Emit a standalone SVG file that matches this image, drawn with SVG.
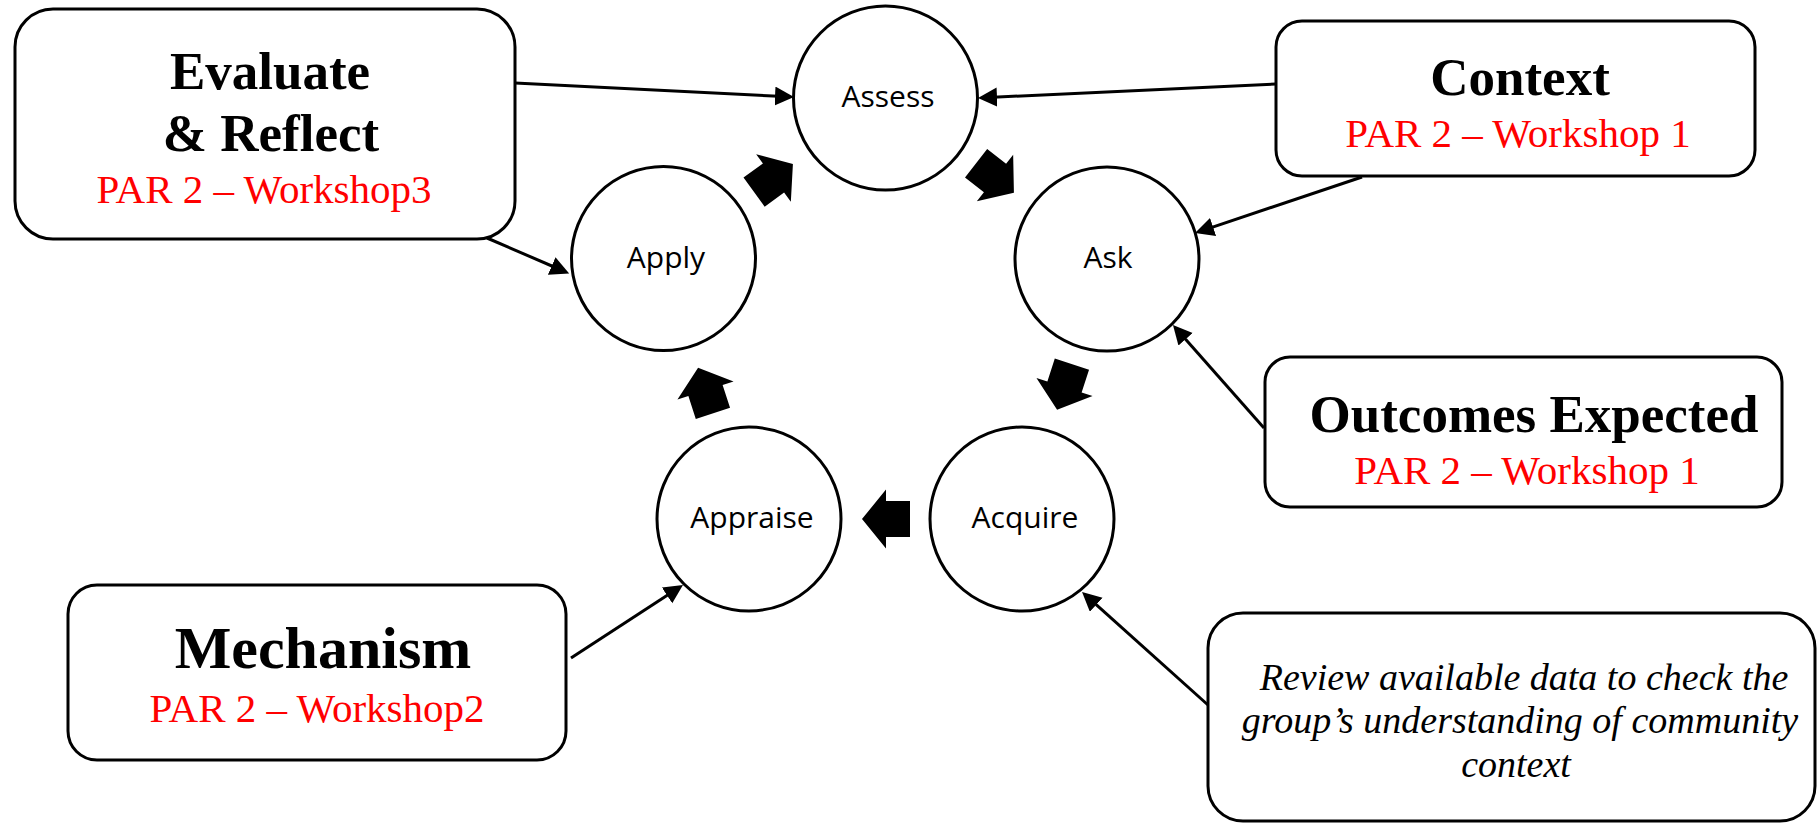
<svg xmlns="http://www.w3.org/2000/svg" width="1819" height="823" viewBox="0 0 1819 823">
  <style>
    .box { fill: #ffffff; stroke: #000000; stroke-width: 3; }
    .cycle { fill: #ffffff; stroke: #000000; stroke-width: 3; }
    .step { font-family: "Open Sans", "Noto Sans", sans-serif; font-size: 30px; fill: #000000; text-anchor: middle; }
    .title { font-family: "Liberation Serif", "Times New Roman", serif; font-weight: bold; font-size: 53px; fill: #000000; text-anchor: middle; }
    .sub { font-family: "Liberation Serif", "Times New Roman", serif; font-size: 41px; fill: #ff0000; text-anchor: middle; }
    .note { font-family: "Liberation Serif", "Times New Roman", serif; font-style: italic; font-size: 38px; fill: #000000; text-anchor: middle; }
    .link { fill: none; stroke: #000000; stroke-width: 3; marker-end: url(#head); }
    .flow { fill: #000000; }
  </style>
  <defs>
    <marker id="head" markerUnits="userSpaceOnUse" markerWidth="20" markerHeight="20" refX="9" refY="9.5" orient="auto">
      <path d="M0,0 L19,9.5 L0,19 Z" fill="#000000"/>
    </marker>
    <path id="blockArrow" d="M-24,-18 L0,-18 L0,-29.5 L24,0 L0,29.5 L0,18 L-24,18 Z"/>
  </defs>
  <rect width="1819" height="823" fill="#ffffff"/>

  <!-- connectors: callouts into the cycle -->
  <g id="connectors">
    <line class="link" x1="515" y1="83" x2="784" y2="96.5"/>
    <line class="link" x1="487" y1="238" x2="560" y2="269.5"/>
    <line class="link" x1="1276" y1="84" x2="988" y2="97.5"/>
    <line class="link" x1="1362" y1="177" x2="1204.5" y2="229.8"/>
    <line class="link" x1="1264" y1="428" x2="1179.6" y2="332.5"/>
    <line class="link" x1="1208" y1="705" x2="1089.5" y2="598.7"/>
    <line class="link" x1="571" y1="658" x2="674.6" y2="590.5"/>
    <!-- fat arrows around the cycle -->
    <use class="flow" href="#blockArrow" transform="translate(773.5,178) rotate(-36)"/>
    <use class="flow" href="#blockArrow" transform="translate(995,178) rotate(38)"/>
    <use class="flow" href="#blockArrow" transform="translate(1064.5,387) rotate(108)"/>
    <use class="flow" href="#blockArrow" transform="translate(886,519) rotate(180)"/>
    <use class="flow" href="#blockArrow" transform="translate(705.5,390.5) rotate(-108)"/>
  </g>

  <!-- cycle steps -->
  <g id="assess">
    <circle class="cycle" cx="885.5" cy="98" r="92"/>
    <text class="step" x="888" y="107">Assess</text>
  </g>
  <g id="ask">
    <circle class="cycle" cx="1107" cy="259" r="92"/>
    <text class="step" x="1108" y="268">Ask</text>
  </g>
  <g id="acquire">
    <circle class="cycle" cx="1022" cy="519" r="92"/>
    <text class="step" x="1025" y="528">Acquire</text>
  </g>
  <g id="appraise">
    <circle class="cycle" cx="749" cy="519" r="92"/>
    <text class="step" x="752" y="528">Appraise</text>
  </g>
  <g id="apply">
    <circle class="cycle" cx="663.5" cy="258.5" r="92"/>
    <text class="step" x="666" y="268">Apply</text>
  </g>

  <!-- callout boxes -->
  <g id="evaluate-reflect">
    <rect class="box" x="15" y="9" width="500" height="230" rx="38"/>
    <text class="title" x="270" y="89">Evaluate</text>
    <text class="title" x="271" y="151">&amp; Reflect</text>
    <text class="sub" x="264" y="203">PAR 2 – Workshop3</text>
  </g>
  <g id="context">
    <rect class="box" x="1276" y="21" width="479" height="155" rx="26"/>
    <text class="title" x="1520" y="95">Context</text>
    <text class="sub" x="1518" y="147">PAR 2 – Workshop 1</text>
  </g>
  <g id="outcomes-expected">
    <rect class="box" x="1265" y="357" width="517" height="150" rx="25"/>
    <text class="title" x="1534" y="432">Outcomes Expected</text>
    <text class="sub" x="1527" y="484">PAR 2 – Workshop 1</text>
  </g>
  <g id="mechanism">
    <rect class="box" x="68" y="585" width="498" height="175" rx="29"/>
    <text class="title" x="323" y="668" style="font-size:60px">Mechanism</text>
    <text class="sub" x="317" y="722">PAR 2 – Workshop2</text>
  </g>
  <g id="review-note">
    <rect class="box" x="1208" y="613" width="607" height="208" rx="35"/>
    <text class="note" x="1524" y="690">Review available data to check the</text>
    <text class="note" x="1520" y="733">group’s understanding of community</text>
    <text class="note" x="1516" y="777">context</text>
  </g>
</svg>
